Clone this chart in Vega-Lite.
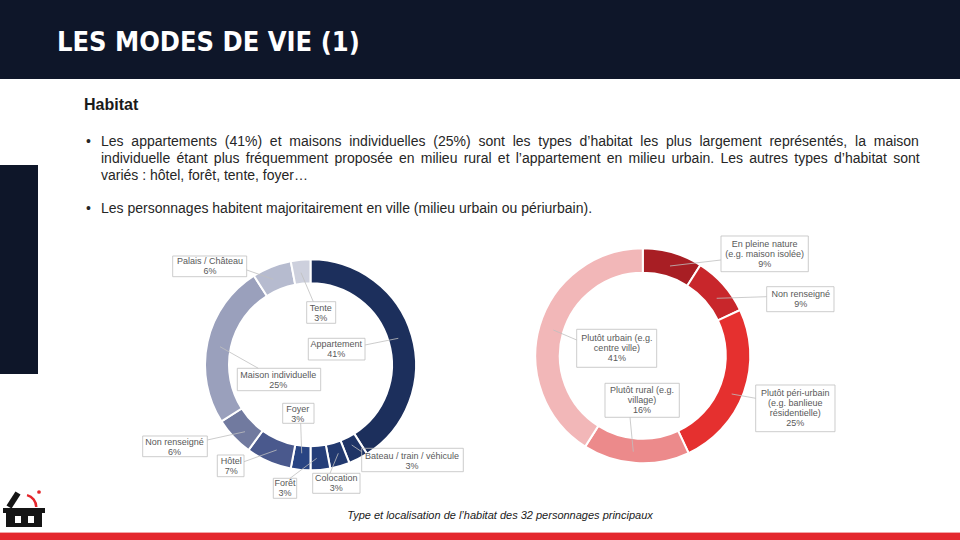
{
  "$schema": "https://vega.github.io/schema/vega-lite/v6.json",
  "width": 960,
  "height": 540,
  "autosize": {"type": "fit", "contains": "padding"},
  "padding": 0,
  "background": "#ffffff",
  "config": {"view": {"stroke": null}, "font": "Liberation Sans"},
  "data": {"values": [{}]},
  "datasets": {
    "habitat": [
      {"chart": "type", "category": "Appartement", "pct": 41},
      {"chart": "type", "category": "Bateau / train / véhicule", "pct": 3},
      {"chart": "type", "category": "Colocation", "pct": 3},
      {"chart": "type", "category": "Forêt", "pct": 3},
      {"chart": "type", "category": "Foyer", "pct": 3},
      {"chart": "type", "category": "Hôtel", "pct": 7},
      {"chart": "type", "category": "Non renseigné", "pct": 6},
      {"chart": "type", "category": "Maison individuelle", "pct": 25},
      {"chart": "type", "category": "Palais / Château", "pct": 6},
      {"chart": "type", "category": "Tente", "pct": 3}
    ],
    "localisation": [
      {"chart": "localisation", "category": "En pleine nature\n(e.g. maison isolée)", "pct": 9},
      {"chart": "localisation", "category": "Non renseigné", "pct": 9},
      {"chart": "localisation", "category": "Plutôt péri-urbain\n(e.g. banlieue\nrésidentielle)", "pct": 25},
      {"chart": "localisation", "category": "Plutôt rural (e.g.\nvillage)", "pct": 16},
      {"chart": "localisation", "category": "Plutôt urbain (e.g.\ncentre ville)", "pct": 41}
    ]
  },
  "resolve": {"scale": {"color": "independent"}},
  "layer": [
    {
      "mark": {"type": "rect", "color": "#0e1629"},
      "encoding": {"x": {"value": 0}, "x2": {"value": 960}, "y": {"value": 0}, "y2": {"value": 79}}
    },
    {
      "mark": {"type": "rect", "color": "#0e1629"},
      "encoding": {"x": {"value": 0}, "x2": {"value": 38}, "y": {"value": 165}, "y2": {"value": 374}}
    },
    {
      "mark": {"type": "rect", "color": "#f2a7a9"},
      "encoding": {"x": {"value": 0}, "x2": {"value": 960}, "y": {"value": 532}, "y2": {"value": 533}}
    },
    {
      "mark": {"type": "rect", "color": "#e4282e"},
      "encoding": {"x": {"value": 0}, "x2": {"value": 960}, "y": {"value": 533}, "y2": {"value": 540}}
    },
    {
      "mark": {"type": "text", "text": "LES MODES DE VIE (1)", "font": "DejaVu Sans Condensed, DejaVu Sans, sans-serif", "fontWeight": "bold", "fontSize": 27, "fill": "#ffffff", "align": "left", "baseline": "alphabetic"},
      "encoding": {"x": {"value": 57}, "y": {"value": 51}}
    },
    {
      "mark": {"type": "text", "text": "Habitat", "fontWeight": "bold", "fontSize": 16, "fill": "#1a1a1a", "align": "left", "baseline": "alphabetic"},
      "encoding": {"x": {"value": 84}, "y": {"value": 110}}
    },
    {
      "mark": {"type": "text", "text": "•", "fontSize": 14, "fill": "#262626", "align": "left", "baseline": "alphabetic"},
      "encoding": {"x": {"value": 86}, "y": {"value": 146}}
    },
    {
      "mark": {"type": "text", "text": "•", "fontSize": 14, "fill": "#262626", "align": "left", "baseline": "alphabetic"},
      "encoding": {"x": {"value": 86}, "y": {"value": 213}}
    },
    {
      "mark": {
        "type": "text",
        "text": [
          "Les\u00a0 appartements\u00a0 (41%)\u00a0 et\u00a0 maisons\u00a0 individuelles\u00a0 (25%)\u00a0 sont\u00a0 les\u00a0 types\u00a0 d’habitat\u00a0 les\u00a0 plus\u00a0 largement\u00a0 représentés,\u00a0 la\u00a0 maison",
          "individuelle\u2006 étant\u2006 plus\u2006 fréquemment\u2006 proposée\u2006 en\u2006 milieu\u2006 rural\u2006 et\u2006 l’appartement\u2006 en\u2006 milieu\u2006 urbain.\u2006 Les\u2006 autres\u2006 types\u2006 d’habitat\u2006 sont",
          "variés : hôtel, forêt, tente, foyer…"
        ],
        "fontSize": 14, "fill": "#262626", "align": "left", "baseline": "alphabetic", "lineHeight": 16.75
      },
      "encoding": {"x": {"value": 101}, "y": {"value": 146}}
    },
    {
      "mark": {"type": "text", "text": "Les personnages habitent majoritairement en ville (milieu urbain ou périurbain).", "fontSize": 14, "fill": "#262626", "align": "left", "baseline": "alphabetic"},
      "encoding": {"x": {"value": 101}, "y": {"value": 213}}
    },
    {
      "mark": {"type": "text", "text": "Type et localisation de l’habitat des 32 personnages principaux", "fontStyle": "italic", "fontSize": 11, "fill": "#1a1a1a", "align": "center", "baseline": "alphabetic"},
      "encoding": {"x": {"value": 500}, "y": {"value": 519}}
    },
    {
      "mark": {"type": "rect", "color": "#151515"},
      "encoding": {"x": {"value": 3}, "x2": {"value": 45}, "y": {"value": 508}, "y2": {"value": 513}}
    },
    {
      "mark": {"type": "rect", "color": "#151515"},
      "encoding": {"x": {"value": 6}, "x2": {"value": 42}, "y": {"value": 512}, "y2": {"value": 527}}
    },
    {
      "mark": {"type": "rect", "color": "#ffffff"},
      "encoding": {"x": {"value": 15}, "x2": {"value": 21}, "y": {"value": 516}, "y2": {"value": 523}}
    },
    {
      "mark": {"type": "rect", "color": "#ffffff"},
      "encoding": {"x": {"value": 28}, "x2": {"value": 34}, "y": {"value": 516}, "y2": {"value": 523}}
    },
    {
      "mark": {"type": "rule", "color": "#151515", "strokeWidth": 6},
      "encoding": {"x": {"value": 9}, "y": {"value": 507}, "x2": {"value": 18}, "y2": {"value": 493}}
    },
    {
      "mark": {"type": "arc", "color": "#e4262c", "innerRadius": 11, "outerRadius": 13.5, "theta": 0.25, "theta2": 1.57},
      "encoding": {"x": {"value": 24}, "y": {"value": 507}}
    },
    {
      "mark": {"type": "point", "filled": true, "color": "#e4262c", "size": 14, "opacity": 1},
      "encoding": {"x": {"value": 39}, "y": {"value": 492}}
    },
    {
      "data": {"name": "habitat"},
      "transform": [{"window": [{"op": "row_number", "as": "idx"}]}],
      "encoding": {
        "x": {"field": "chart", "type": "nominal", "scale": {"type": "point", "domain": ["type", "localisation"], "range": [310.5, 642.8], "padding": 0}, "axis": null},
        "y": {"field": "chart", "type": "nominal", "scale": {"type": "point", "domain": ["type", "localisation"], "range": [364.8, 355.8], "padding": 0}, "axis": null}
      },
      "layer": [
        {
          "mark": {"type": "arc", "innerRadius": 81.5, "outerRadius": 105.5, "stroke": "#ffffff", "strokeWidth": 2},
          "encoding": {
            "theta": {"field": "pct", "type": "quantitative", "stack": true},
            "order": {"field": "idx", "type": "quantitative"},
            "color": {"field": "idx", "type": "ordinal", "legend": null,
              "scale": {"range": ["#1c2f5c", "#1f3466", "#22396f", "#253e79", "#284483", "#4a598d", "#717a9f", "#9aa0bc", "#b6bbcf", "#cdd0dd"]}}
          }
        },
        {
          "mark": {
            "type": "point", "filled": false, "color": "#bfbfbf", "strokeWidth": 0.8, "size": 4, "opacity": 1,
            "shape": {"expr": "['M-2.2,-26.5H54.5V-4.8H-2.2Z M54.5,-19.8L87.8,-26.5', 'M51.2,83.5H152.8V106.9H51.2Z M41.2,80.2L51.2,86.9', 'M2.2,108.5H49.5V128.5H2.2Z M19.5,108.5L27.8,88.5', 'M-37.2,113.5H-13.8V133.5H-37.2Z M-20.5,113.5L6.2,93.5', 'M-27.8,38.5H3.5V58.5H-27.8Z M-9.8,58.5L-8.8,88.5', 'M-93.2,90.2H-66.5V111.9H-93.2Z M-66.5,96.9L-33.8,85.2', 'M-167.8,71.2H-103.2V91.9H-167.8Z M-103.2,75.2L-65.5,66.9', 'M-73.2,3.5H10.2V25.9H-73.2Z M-52.2,3.5L-90.5,-18.1', 'M-137.8,-108.8H-63.8V-88.1H-137.8Z M-63.8,-94.8L-37.2,-85.5', 'M-3.8,-63.1H25.2V-41.5H-3.8Z M2.8,-63.1L-9.5,-92.1'][datum.idx - 1]"}
          }
        },
        {
          "mark": {
            "type": "text", "fontSize": 9, "fill": "#595959", "align": "center", "baseline": "middle", "lineBreak": "\n", "lineHeight": 10,
            "radius": {"expr": "[30, 131, 121, 121, 50, 124, 155, 28, 129, 51][datum.idx - 1]"},
            "dx": {"expr": "[-3, 42, -8, -37, -8, -30, -23, -5, -53, 15][datum.idx - 1]"},
            "dy": {"expr": "[-12, -26, -3, -2, -6, -18, -29, 16, 16, -6][datum.idx - 1]"},
            "text": {"expr": "datum.category + '\\n' + datum.pct + '%'"}
          },
          "encoding": {
            "theta": {"field": "pct", "type": "quantitative", "stack": true},
            "order": {"field": "idx", "type": "quantitative"},
            "detail": {"field": "idx", "type": "ordinal"}
          }
        }
      ]
    },
    {
      "data": {"name": "localisation"},
      "transform": [{"window": [{"op": "row_number", "as": "idx"}]}],
      "encoding": {
        "x": {"field": "chart", "type": "nominal", "scale": {"type": "point", "domain": ["type", "localisation"], "range": [310.5, 642.8], "padding": 0}, "axis": null},
        "y": {"field": "chart", "type": "nominal", "scale": {"type": "point", "domain": ["type", "localisation"], "range": [364.8, 355.8], "padding": 0}, "axis": null}
      },
      "layer": [
        {
          "mark": {"type": "arc", "innerRadius": 83, "outerRadius": 107.5, "stroke": "#ffffff", "strokeWidth": 2},
          "encoding": {
            "theta": {"field": "pct", "type": "quantitative", "stack": true},
            "order": {"field": "idx", "type": "quantitative"},
            "color": {"field": "idx", "type": "ordinal", "legend": null,
              "scale": {"range": ["#a81e24", "#c8262b", "#e5302f", "#ec8a8b", "#f2b7b8"]}}
          }
        },
        {
          "mark": {
            "type": "point", "filled": false, "color": "#bfbfbf", "strokeWidth": 0.8, "size": 4, "opacity": 1,
            "shape": {"expr": "['M78.2,-119.8H165.5V-84.1H78.2Z M78.2,-95.8L27.2,-89.8', 'M123.9,-69.1H191.2V-44.1H123.9Z M123.9,-59.1L73.9,-57.5', 'M112.9,29.2H192.2V75.9H112.9Z M112.9,42.5L88.9,38.2', 'M-37.8,27.5H36.5V61.5H-37.8Z M-12.8,61.5L-9.5,95.9', 'M-66.1,-26.5H13.9V11.5H-66.1Z M-66.1,-15.8L-89.5,-25.8'][datum.idx - 1]"}
          }
        },
        {
          "mark": {
            "type": "text", "fontSize": 9, "fill": "#595959", "align": "center", "baseline": "middle", "lineBreak": "\n", "lineHeight": 10,
            "radius": {"expr": "[132, 156, 161, 44, 27][datum.idx - 1]"},
            "dx": {"expr": "[85, 41, 1, 2, 0][datum.idx - 1]"},
            "dy": {"expr": "[15, 41, -17, -10, -10][datum.idx - 1]"},
            "text": {"expr": "datum.category + '\\n' + datum.pct + '%'"}
          },
          "encoding": {
            "theta": {"field": "pct", "type": "quantitative", "stack": true},
            "order": {"field": "idx", "type": "quantitative"},
            "detail": {"field": "idx", "type": "ordinal"}
          }
        }
      ]
    }
  ]
}
